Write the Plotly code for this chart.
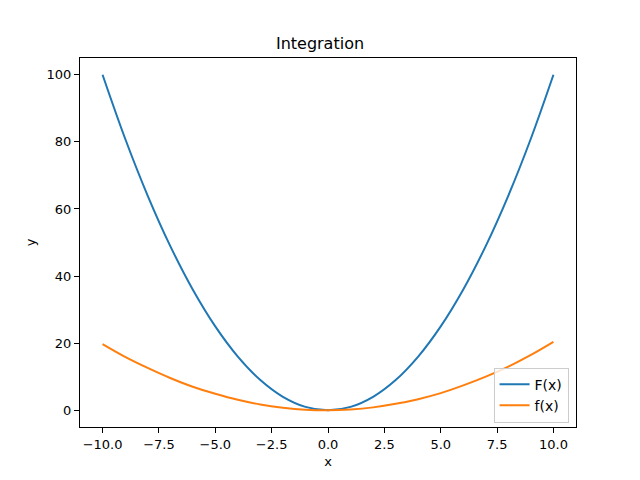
import plotly.graph_objects as go

x_vals = [-10, -9, -8, -7, -6, -5, -4, -3, -2, -1, 0, 1, 2, 3, 4, 5, 6, 7, 8, 9, 10]
F_vals = [100, 81, 64, 49, 36, 25, 16, 9, 4, 1, 0, 1, 4, 9, 16, 25, 36, 49, 64, 81, 100]
f_vals = [19.7, 15.9, 12.6, 9.6, 7.0, 4.9, 3.1, 1.7, 0.75, 0.17, 0.0, 0.23, 0.85, 1.9, 3.3, 5.1, 7.4, 10.0, 13.0, 16.5, 20.4]

fig = go.Figure()
fig.add_trace(go.Scatter(x=x_vals, y=F_vals, mode="lines", name="F(x)",
                         line=dict(color="#1f77b4", width=2, shape="spline")))
fig.add_trace(go.Scatter(x=x_vals, y=f_vals, mode="lines", name="f(x)",
                         line=dict(color="#ff7f0e", width=2, shape="spline")))

axis_common = dict(showgrid=False, zeroline=False, showline=True, linecolor="black",
                   linewidth=1, mirror=True, ticks="outside", ticklen=5, tickcolor="black",
                   tickfont=dict(family="DejaVu Sans", size=13, color="black"))

fig.update_layout(
    width=640, height=480,
    margin=dict(l=80, r=64, t=58, b=53),
    paper_bgcolor="white", plot_bgcolor="white",
    title=dict(text="Integration", x=0.5, xanchor="center", y=1 - 43 / 480, yanchor="middle",
               font=dict(family="DejaVu Sans", size=16, color="black")),
    xaxis=dict(range=[-11, 11], tickvals=[-10, -7.5, -5, -2.5, 0, 2.5, 5, 7.5, 10],
               ticktext=["\u221210.0", "\u22127.5", "\u22125.0", "\u22122.5", "0.0", "2.5", "5.0", "7.5", "10.0"],
               title=dict(text="x", font=dict(family="DejaVu Sans", size=13, color="black"), standoff=6),
               **axis_common),
    yaxis=dict(range=[-5, 105], tickvals=[0, 20, 40, 60, 80, 100],
               title=dict(text="y", font=dict(family="DejaVu Sans", size=13, color="black"), standoff=8),
               **axis_common),
    legend=dict(x=0.985, y=0.012, xanchor="right", yanchor="bottom",
                bgcolor="rgba(255,255,255,0.8)", bordercolor="#cccccc", borderwidth=1,
                font=dict(family="DejaVu Sans", size=14, color="black")),
    showlegend=True,
)

fig.write_html("out.html")
